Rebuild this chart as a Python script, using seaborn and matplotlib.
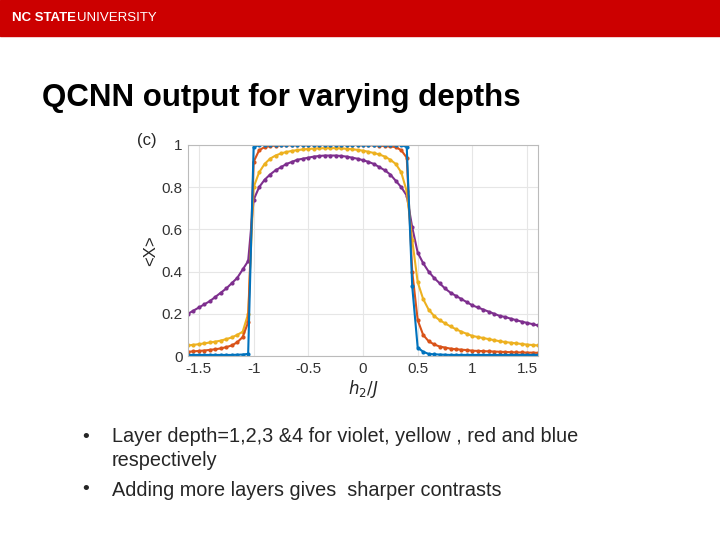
import numpy as np
import matplotlib
matplotlib.use('Agg')
import matplotlib.pyplot as plt
import seaborn as sns

h2 = [-1.60, -1.55, -1.50, -1.45, -1.40, -1.35, -1.30, -1.25, -1.20, -1.15, -1.10, -1.05,
      -1.00, -0.95, -0.90, -0.85, -0.80, -0.75, -0.70, -0.65, -0.60, -0.55, -0.50, -0.45,
      -0.40, -0.35, -0.30, -0.25, -0.20, -0.15, -0.10, -0.05, 0.00, 0.05, 0.10, 0.15,
      0.20, 0.25, 0.30, 0.35, 0.40, 0.45, 0.50, 0.55, 0.60, 0.65, 0.70, 0.75,
      0.80, 0.85, 0.90, 0.95, 1.00, 1.05, 1.10, 1.15, 1.20, 1.25, 1.30, 1.35,
      1.40, 1.45, 1.50, 1.55, 1.60]

depth1 = [.20, .215, .23, .245, .26, .28, .30, .32, .345, .37, .41, .45,
          .74, .80, .835, .86, .88, .895, .91, .92, .93, .935, .94, .945,
          .948, .95, .95, .95, .948, .945, .94, .935, .928, .92, .91, .895,
          .88, .86, .83, .80, .76, .61, .49, .44, .40, .37, .345, .32,
          .30, .285, .27, .255, .24, .23, .22, .21, .20, .19, .185, .177,
          .17, .163, .157, .151, .145]
depth2 = [.05, .053, .056, .06, .064, .068, .073, .08, .088, .10, .115, .20,
          .80, .87, .91, .935, .95, .96, .967, .972, .976, .979, .981, .983,
          .984, .985, .985, .985, .984, .982, .98, .977, .973, .968, .962, .955,
          .945, .93, .91, .87, .78, .55, .35, .27, .22, .19, .17, .155,
          .14, .127, .115, .105, .095, .09, .085, .08, .075, .07, .066, .063,
          .06, .057, .054, .052, .05]
depth3 = [.02, .022, .024, .026, .029, .032, .036, .042, .05, .065, .09, .16,
          .92, .975, .99, .995, .997, .998, .999, .999, 1.0, 1.0, 1.0, 1.0,
          1.0, 1.0, 1.0, 1.0, 1.0, 1.0, 1.0, 1.0, .999, .999, .998, .997,
          .995, .993, .99, .975, .94, .40, .17, .10, .07, .055, .045, .04,
          .035, .032, .03, .028, .025, .024, .023, .022, .021, .02, .019, .018,
          .017, .017, .016, .016, .015]
depth4 = [.005, .005, .005, .005, .005, .005, .005, .005, .005, .006, .007, .01,
          .99, 1.0, 1.0, 1.0, 1.0, 1.0, 1.0, 1.0, 1.0, 1.0, 1.0, 1.0,
          1.0, 1.0, 1.0, 1.0, 1.0, 1.0, 1.0, 1.0, 1.0, 1.0, 1.0, 1.0,
          1.0, 1.0, 1.0, 1.0, .99, .33, .04, .02, .01, .008, .007, .006,
          .005, .005, .005, .005, .005, .005, .005, .005, .005, .005, .005, .005,
          .005, .005, .005, .005, .005]

series = [(depth1, '#7E2F8E'), (depth2, '#EDB120'), (depth3, '#D95319'), (depth4, '#0072BD')]

sns.set_style('whitegrid')
plt.rcParams['font.family'] = ['Liberation Sans', 'DejaVu Sans']

fig = plt.figure(figsize=(7.2, 5.4), dpi=100)

# header bar
fig.patches.append(plt.Rectangle((0, 1 - 36 / 540), 1, 36 / 540, transform=fig.transFigure,
                                 color='#CC0000', zorder=0))
fig.text(12 / 720, 1 - 18 / 540, 'NC STATE', color='white', fontsize=9.5, fontweight='bold', va='center')
fig.text(77 / 720, 1 - 18 / 540, 'UNIVERSITY', color='white', fontsize=9.5, va='center')

fig.text(42 / 720, 1 - 98 / 540, 'QCNN output for varying depths', fontsize=22.5,
         fontweight='bold', color='black', va='center')

ax = fig.add_axes([188 / 720, 1 - 356 / 540, 350 / 720, 211 / 540])
for y, c in series:
    sns.lineplot(x=h2, y=y, ax=ax, color=c, marker='o', markersize=3, markeredgewidth=0, linewidth=1.5)

ax.set_xlim(-1.6, 1.6)
ax.set_ylim(0, 1)
ax.set_xticks([-1.5, -1, -0.5, 0, 0.5, 1, 1.5])
ax.set_xticklabels(['-1.5', '-1', '-0.5', '0', '0.5', '1', '1.5'])
ax.set_yticks([0, 0.2, 0.4, 0.6, 0.8, 1])
ax.set_yticklabels(['0', '0.2', '0.4', '0.6', '0.8', '1'])
ax.tick_params(labelsize=11, colors='#333333', length=0, pad=4)
ax.grid(color='#e6e6e6', linewidth=0.8)
for s in ax.spines.values():
    s.set_color('#bbbbbb')
    s.set_linewidth(0.8)
ax.set_xlabel('$h_2/J$', fontsize=12, labelpad=2)
ax.set_ylabel('<X>', fontsize=12, labelpad=2)
fig.text(137 / 720, 1 - 140 / 540, '(c)', fontsize=12, va='center')

fig.text(82 / 720, 1 - 437 / 540, '•', fontsize=14, va='center')
fig.text(112 / 720, 1 - 437 / 540, 'Layer depth=1,2,3 &4 for violet, yellow , red and blue', fontsize=14.3, va='center')
fig.text(112 / 720, 1 - 461 / 540, 'respectively', fontsize=14.3, va='center')
fig.text(82 / 720, 1 - 490 / 540, '•', fontsize=14, va='center')
fig.text(112 / 720, 1 - 490 / 540, 'Adding more layers gives  sharper contrasts', fontsize=14.3, va='center')

fig.savefig('out.png', dpi=100)
